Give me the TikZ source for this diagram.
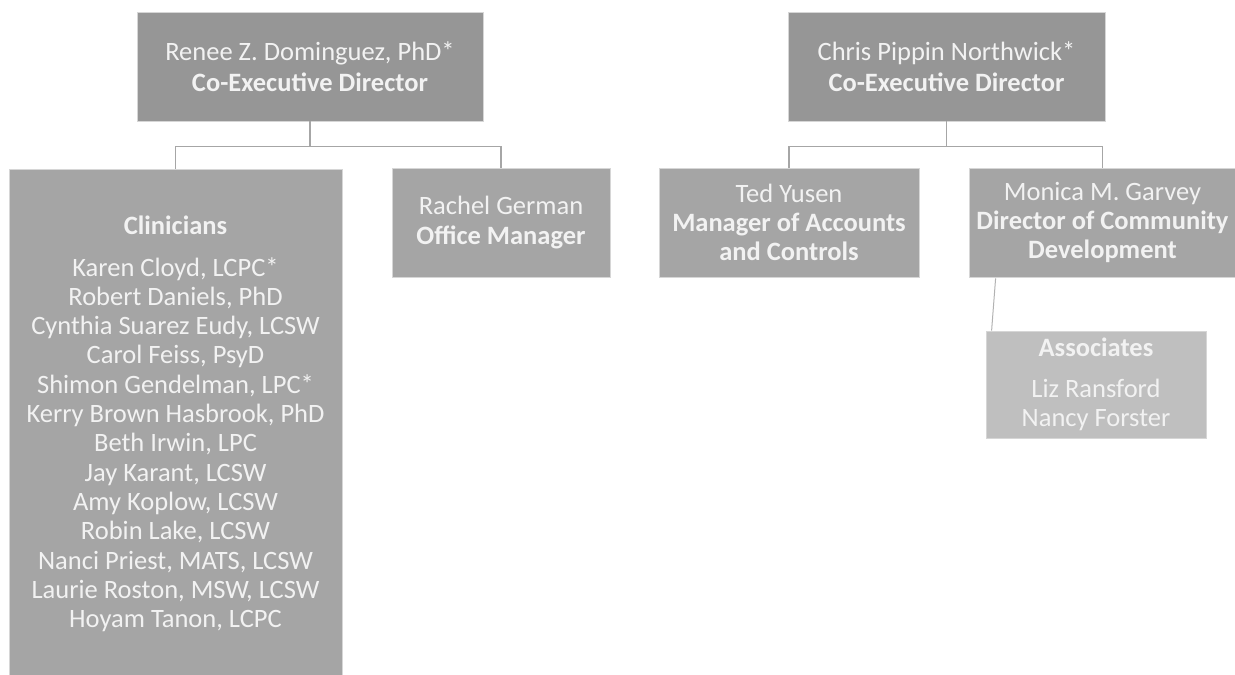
\documentclass[tikz,border=0pt]{standalone}
\usepackage{fontspec}
\setmainfont{Carlito}
\usetikzlibrary{calc}
\definecolor{topfill}{HTML}{969696}
\definecolor{midfill}{HTML}{A5A5A5}
\definecolor{lowfill}{HTML}{BFBFBF}
\definecolor{txt}{HTML}{F2F2F2}
\definecolor{edgecol}{HTML}{D6D6D6}
\definecolor{conncol}{HTML}{A6A6A6}
\begin{document}
\begin{tikzpicture}[x=1pt,y=-1pt,
  box/.style={draw=edgecol, line width=0.8pt, align=center, text=txt,
    font=\fontsize{26.5}{29.3}\selectfont, inner sep=0pt},
  topbox/.style={box, fill=topfill, minimum height=109pt},
  midbox/.style={box, fill=midfill, minimum height=109pt},
  lowbox/.style={box, fill=lowfill},
  conn/.style={draw=conncol, line width=1.5pt}]
\useasboundingbox (0,0) rectangle (1235,675);

\node[topbox, minimum width=346pt] (renee) at (310,66.5)
  {Renee Z. Dominguez, PhD*\\[2pt]\textbf{Co-Executive Director}};
\node[topbox, minimum width=317pt] (chris) at (946.5,66.5)
  {Chris Pippin Northwick*\\[2pt]\textbf{Co-Executive Director}};

\node[midbox, minimum width=333pt, minimum height=510pt] (clin) at (175.5,424)
  {\textbf{Clinicians}\\[12pt]
   Karen Cloyd, LCPC*\\
   Robert Daniels, PhD\\
   Cynthia Suarez Eudy, LCSW\\
   Carol Feiss, PsyD\\
   Shimon Gendelman, LPC*\\
   Kerry Brown Hasbrook, PhD\\
   Beth Irwin, LPC\\
   Jay Karant, LCSW\\
   Amy Koplow, LCSW\\
   Robin Lake, LCSW\\
   Nanci Priest, MATS, LCSW\\
   Laurie Roston, MSW, LCSW\\
   Hoyam Tanon, LCPC};
\node[midbox, minimum width=218pt] (rachel) at (501,222.5)
  {Rachel German\\\textbf{Office Manager}};
\node[midbox, minimum width=260pt] (ted) at (789,222.5)
  {Ted Yusen\\\textbf{Manager of Accounts}\\\textbf{and Controls}};
\node[midbox, minimum width=267pt] (monica) at (1102.5,222.5)
  {Monica M. Garvey\\\textbf{Director of Community}\\\textbf{Development}};
\node[lowbox, minimum width=220pt, minimum height=107pt] (assoc) at (1096,384.5)
  {\textbf{Associates}\\[12pt]Liz Ransford\\Nancy Forster};

\path (renee.south) ++(0,25) coordinate (rj);
\draw[conn] (renee.south) -- (rj);
\draw[conn] (clin.north) |- (rj) -| (rachel.north);

\path (chris.south) ++(0,25) coordinate (cj);
\draw[conn] (chris.south) -- (cj);
\draw[conn] (ted.north) |- (cj) -| (monica.north);

\draw[line width=1pt, draw=lightgray!80!gray] ($(monica.south west)+(27,1)$) -- ($(assoc.north west)+(6,0)$);
\end{tikzpicture}
\end{document}
